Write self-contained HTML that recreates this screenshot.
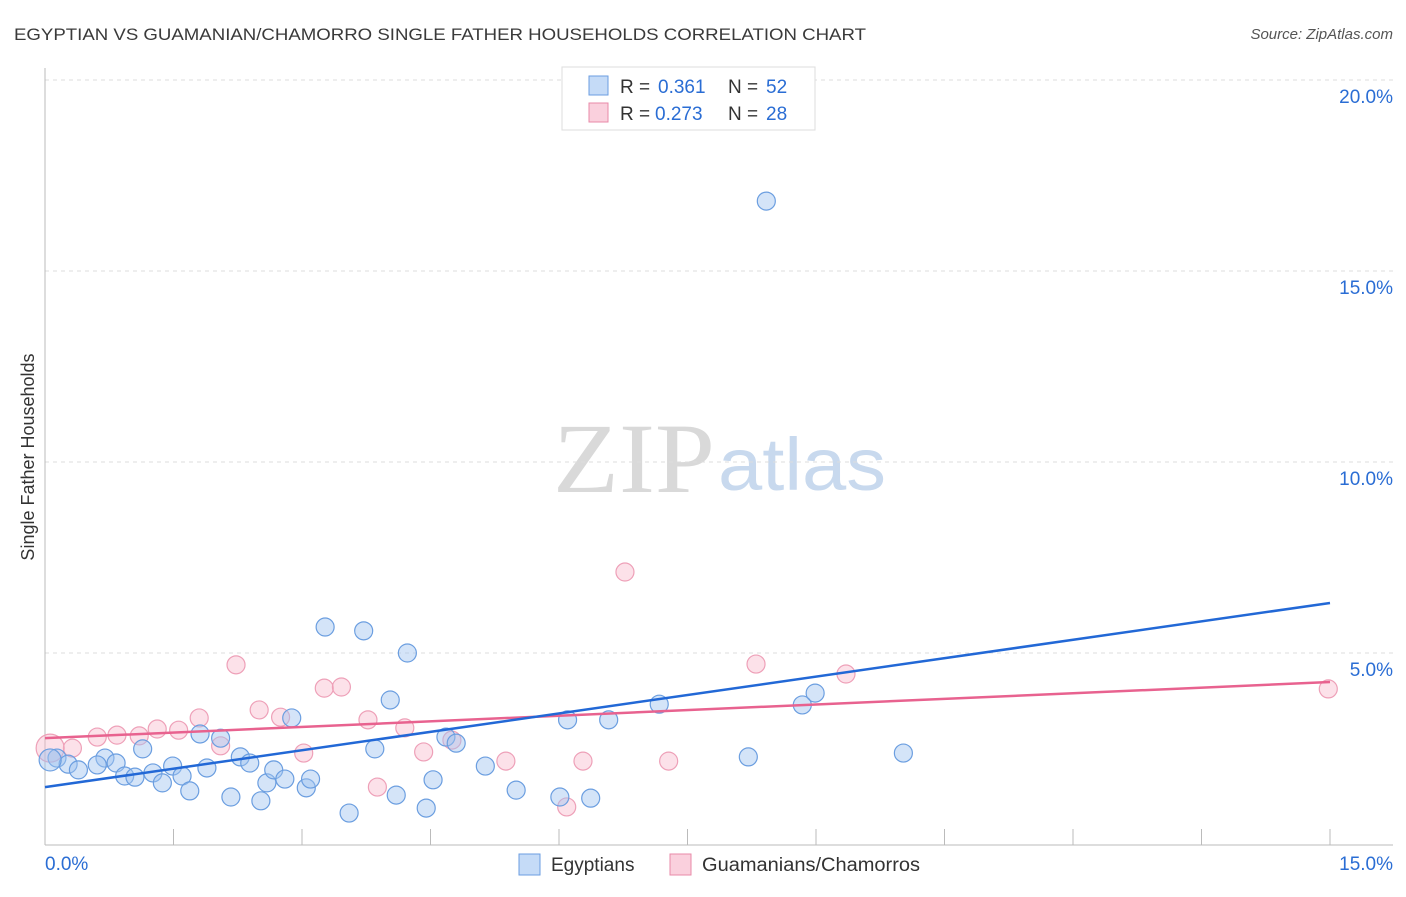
<!DOCTYPE html>
<html><head><meta charset="utf-8"><style>
body{margin:0;background:#fff;font-family:"Liberation Sans",sans-serif;}
</style></head><body>
<svg id="chart" width="1406" height="892" xmlns="http://www.w3.org/2000/svg" font-family="Liberation Sans, sans-serif">
<text x="14" y="40" font-size="17" fill="#3a3a3a" textLength="852" lengthAdjust="spacingAndGlyphs">EGYPTIAN VS GUAMANIAN/CHAMORRO SINGLE FATHER HOUSEHOLDS CORRELATION CHART</text>
<text x="1393" y="39" font-size="15" fill="#555" text-anchor="end" font-style="italic">Source: ZipAtlas.com</text>
<text x="553" y="492" style="font-family:'Liberation Serif',serif;font-size:100px" fill="#d9d9d9" textLength="162" lengthAdjust="spacingAndGlyphs">ZIP</text>
<text x="718" y="490" font-size="74" fill="#c8d9ee" textLength="168" lengthAdjust="spacingAndGlyphs">atlas</text>
<g id="grid"></g>
<g id="axes"></g>
<g id="marks"></g>
<text transform="translate(34,457) rotate(-90)" font-size="18" fill="#333" text-anchor="middle">Single Father Households</text>
<g>
<rect x="562" y="67" width="253" height="63" fill="#fff" stroke="#ddd"/>
<rect x="589" y="76" width="19" height="19" fill="#c5dbf7" stroke="#6b9ee0"/>
<text x="620" y="93" font-size="19" fill="#333">R =</text>
<text x="658" y="93" font-size="19" fill="#2a6dd4">0.361</text>
<text x="728" y="93" font-size="19" fill="#333">N =</text>
<text x="766" y="93" font-size="19" fill="#2a6dd4">52</text>
<rect x="589" y="103" width="19" height="19" fill="#fad0dd" stroke="#e88aa8"/>
<text x="620" y="120" font-size="19" fill="#333">R =</text>
<text x="655" y="120" font-size="19" fill="#2a6dd4">0.273</text>
<text x="728" y="120" font-size="19" fill="#333">N =</text>
<text x="766" y="120" font-size="19" fill="#2a6dd4">28</text>
</g>
<g>
<rect x="519" y="854" width="21" height="21" fill="#c5dbf7" stroke="#6b9ee0"/>
<text x="551" y="871" font-size="19" fill="#333">Egyptians</text>
<rect x="670" y="854" width="21" height="21" fill="#fad0dd" stroke="#e88aa8"/>
<text x="702" y="871" font-size="19" fill="#333" textLength="218" lengthAdjust="spacingAndGlyphs">Guamanians/Chamorros</text>
</g>
</svg>
<script>
const yTicks=[5,10,15,20];
const yTickLabels=["5.0%","10.0%","15.0%","20.0%"];
const xTickLabels=["0.0%","15.0%"];
const egyX=[8.42,3.27,3.72,4.23,4.03,2.88,8.99,8.84,7.17,6.10,6.58,4.68,4.80,3.85,2.05,1.81,1.14,0.70,0.83,0.14,0.27,0.39,0.61,0.93,1.05,1.26,1.37,1.49,1.60,1.69,1.89,2.17,2.28,2.39,2.52,2.59,2.67,2.80,3.05,3.10,3.55,4.10,4.45,4.53,5.14,5.50,6.01,6.37,8.21,10.02,0.06];
const egyY=[16.83,5.68,5.58,5.0,3.77,3.30,3.95,3.64,3.66,3.25,3.25,2.80,2.64,2.49,2.77,2.88,2.49,2.25,2.12,2.25,2.09,1.94,2.07,1.78,1.75,1.86,1.60,2.04,1.78,1.39,1.99,1.23,2.28,2.12,1.13,1.60,1.94,1.70,1.47,1.70,0.81,1.28,0.94,1.68,2.04,1.41,1.23,1.20,2.28,2.38,2.20];
const guaX=[6.77,2.23,3.26,3.46,8.30,9.35,14.98,2.50,2.75,1.80,1.31,1.56,0.61,0.84,1.10,3.77,4.20,2.05,3.02,4.42,4.75,5.38,6.28,7.28,3.88,6.09,0.32,0.06];
const guaY=[7.12,4.69,4.08,4.11,4.71,4.45,4.06,3.51,3.32,3.30,3.01,2.98,2.80,2.85,2.83,3.25,3.04,2.57,2.38,2.41,2.72,2.17,2.17,2.17,1.49,0.97,2.51,2.51];
const egyTrend=[1.49,6.31];
const guaTrend=[2.77,4.24];
const NS="http://www.w3.org/2000/svg";
const sx=v=>45+v*1285/15;
const sy=v=>844-v*38.2;
function mk(tag,attrs,parent){const e=document.createElementNS(NS,tag);for(const k in attrs)e.setAttribute(k,attrs[k]);document.getElementById(parent).appendChild(e);return e;}
yTicks.forEach((t,i)=>{
 const l=mk('line',{x1:45,x2:1393,y1:sy(t),y2:sy(t),stroke:'#ddd','stroke-dasharray':'4,4'},'grid');
 
 
 const tx=mk('text',{x:1393,y:sy(t)+23,'font-size':19,fill:'#2a6dd4','text-anchor':'end'},'grid');
 tx.textContent=yTickLabels[i];
 
 
});
let a=mk('line',{x1:45,x2:45,y1:68,y2:845,stroke:'#bbb'},'axes');


a=mk('line',{x1:45,x2:1393,y1:845,y2:845,stroke:'#bbb'},'axes');


for(let i=1;i<=10;i++){const x=sx(i*1.5);const t=mk('line',{x1:x,x2:x,y1:829,y2:845,stroke:'#bbb'},'axes');
 
 }
let xl=mk('text',{x:45,y:870,'font-size':19,fill:'#2a6dd4'},'axes');xl.textContent=xTickLabels[0];


xl=mk('text',{x:1393,y:870,'font-size':19,fill:'#2a6dd4','text-anchor':'end'},'axes');xl.textContent=xTickLabels[1];


guaX.forEach((x,i)=>{const c=mk('circle',{cx:sx(x),cy:sy(guaY[i]),r:(i==guaX.length-1)?14:9,fill:'rgba(247,180,200,0.4)',stroke:'#eea0b8','stroke-width':1.2},'marks');
 
 });
egyX.forEach((x,i)=>{const c=mk('circle',{cx:sx(x),cy:sy(egyY[i]),r:(i==egyX.length-1)?11:9,fill:'rgba(160,196,240,0.45)',stroke:'#6b9ee0','stroke-width':1.2},'marks');
 
 });
let tl=mk('line',{x1:sx(0),y1:sy(guaTrend[0]),x2:sx(15),y2:sy(guaTrend[1]),stroke:'#e8628f','stroke-width':2.5},'marks');


tl=mk('line',{x1:sx(0),y1:sy(egyTrend[0]),x2:sx(15),y2:sy(egyTrend[1]),stroke:'#2268d6','stroke-width':2.5},'marks');


</script>
</body></html>
